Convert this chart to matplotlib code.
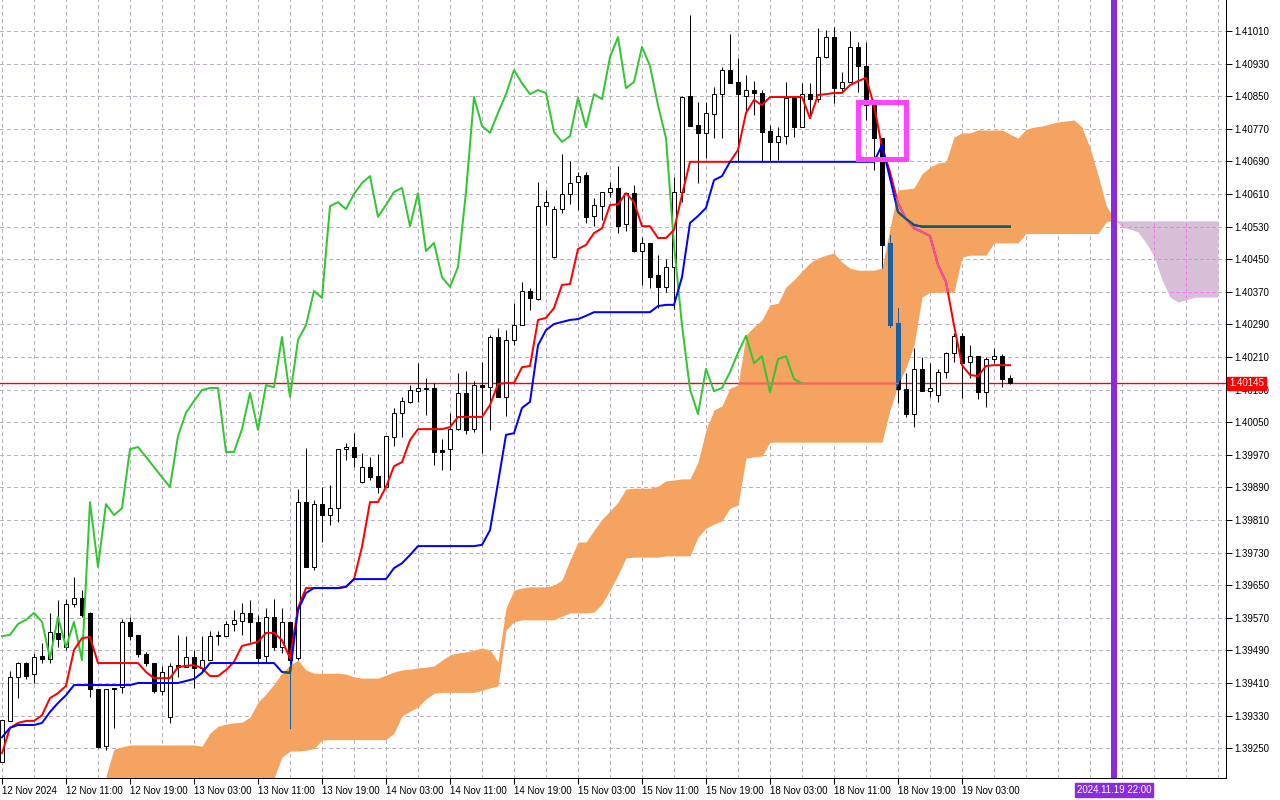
import numpy as np
import matplotlib
matplotlib.use("Agg")
import matplotlib.pyplot as plt
from matplotlib.path import Path
from matplotlib.patches import Rectangle
from matplotlib.transforms import blended_transform_factory
from matplotlib import font_manager

# ---- hourly candles (bar 0 = 12 Nov 03:00) ----
opens = [1.39216, 1.39317, 1.39425, 1.39459, 1.39432, 1.39476, 1.39469, 1.39533, 1.39498, 1.39604,
         1.39619, 1.39582, 1.39395, 1.39255, 1.39398, 1.39400, 1.39560, 1.39528, 1.39481, 1.39459,
         1.39390, 1.39326, 1.39454, 1.39449, 1.39474, 1.39447, 1.39466, 1.39525, 1.39525, 1.39555,
         1.39562, 1.39582, 1.39560, 1.39476, 1.39572, 1.39498, 1.39560, 1.39471, 1.39854, 1.39695,
         1.39849, 1.39822, 1.39839, 1.39984, 1.39989, 1.39903, 1.39940, 1.39918, 1.39891, 1.40014,
         1.40073, 1.40099, 1.40126, 1.40131, 1.40134, 1.39982, 1.39984, 1.40033, 1.40122, 1.40033,
         1.40141, 1.40136, 1.40259, 1.40112, 1.40252, 1.40288, 1.40372, 1.40352, 1.40580, 1.40455,
         1.40573, 1.40610, 1.40639, 1.40657, 1.40556, 1.40580, 1.40615, 1.40625, 1.40536, 1.40612,
         1.40470, 1.40490, 1.40411, 1.40382, 1.40431, 1.40615, 1.40850, 1.40779, 1.40760, 1.40806,
         1.40855, 1.40914, 1.40885, 1.40850, 1.40865, 1.40858, 1.40765, 1.40738, 1.40752, 1.40846,
         1.40774, 1.40855, 1.40843, 1.40946, 1.40995, 1.40870, 1.40885, 1.40971, 1.40924, 1.40828,
         1.40747, 1.40490, 1.40293, 1.40131, 1.40070, 1.40181, 1.40126, 1.40117, 1.40173, 1.40220,
         1.40262, 1.40198, 1.40212, 1.40124, 1.40205, 1.40212, 1.40158]
highs = [1.39319, 1.39439, 1.39462, 1.39462, 1.39484, 1.39508, 1.39582, 1.39614, 1.39616, 1.39670,
         1.39638, 1.39584, 1.39395, 1.39395, 1.39398, 1.39567, 1.39572, 1.39528, 1.39486, 1.39459,
         1.39452, 1.39459, 1.39528, 1.39525, 1.39491, 1.39525, 1.39538, 1.39538, 1.39562, 1.39589,
         1.39606, 1.39614, 1.39577, 1.39594, 1.39616, 1.39594, 1.39560, 1.39886, 1.39987, 1.39859,
         1.39891, 1.39896, 1.39984, 1.39999, 1.40023, 1.39974, 1.39965, 1.39972, 1.40016, 1.40085,
         1.40112, 1.40141, 1.40195, 1.40158, 1.40146, 1.40009, 1.40073, 1.40171, 1.40176, 1.40151,
         1.40198, 1.40264, 1.40281, 1.40276, 1.40342, 1.40394, 1.40379, 1.40639, 1.40620, 1.40580,
         1.40708, 1.40691, 1.40664, 1.40664, 1.40600, 1.40615, 1.40639, 1.40679, 1.40612, 1.40632,
         1.40504, 1.40490, 1.40460, 1.40450, 1.40652, 1.40850, 1.41049, 1.40836, 1.40836, 1.40873,
         1.40922, 1.41003, 1.40944, 1.40902, 1.40887, 1.40865, 1.40779, 1.40774, 1.40885, 1.40846,
         1.40882, 1.40882, 1.41017, 1.41012, 1.41020, 1.40909, 1.41010, 1.40983, 1.40983, 1.40828,
         1.40747, 1.40509, 1.40330, 1.40171, 1.40232, 1.40210, 1.40195, 1.40181, 1.40222, 1.40269,
         1.40269, 1.40239, 1.40212, 1.40210, 1.40232, 1.40217, 1.40166]
lows = [1.39216, 1.39317, 1.39373, 1.39420, 1.39410, 1.39459, 1.39459, 1.39498, 1.39491, 1.39596,
        1.39572, 1.39376, 1.39250, 1.39245, 1.39299, 1.39385, 1.39515, 1.39474, 1.39452, 1.39385,
        1.39380, 1.39312, 1.39425, 1.39449, 1.39398, 1.39435, 1.39466, 1.39503, 1.39525, 1.39538,
        1.39528, 1.39511, 1.39459, 1.39459, 1.39491, 1.39484, 1.39299, 1.39466, 1.39695, 1.39687,
        1.39756, 1.39798, 1.39805, 1.39957, 1.39940, 1.39901, 1.39908, 1.39876, 1.39891, 1.39992,
        1.40014, 1.40097, 1.40099, 1.40068, 1.39945, 1.39933, 1.39933, 1.40031, 1.40021, 1.40026,
        1.39974, 1.40031, 1.40112, 1.40065, 1.40239, 1.40288, 1.40325, 1.40350, 1.40534, 1.40453,
        1.40563, 1.40585, 1.40571, 1.40539, 1.40531, 1.40546, 1.40603, 1.40514, 1.40519, 1.40468,
        1.40387, 1.40379, 1.40330, 1.40369, 1.40328, 1.40590, 1.40777, 1.40637, 1.40698, 1.40747,
        1.40747, 1.40882, 1.40689, 1.40809, 1.40804, 1.40689, 1.40691, 1.40693, 1.40733, 1.40750,
        1.40774, 1.40796, 1.40836, 1.40944, 1.40833, 1.40858, 1.40885, 1.40860, 1.40792, 1.40669,
        1.40428, 1.40284, 1.40097, 1.40063, 1.40038, 1.40126, 1.40112, 1.40099, 1.40158, 1.40198,
        1.40109, 1.40158, 1.40107, 1.40087, 1.40195, 1.40136, 1.40143]
closes = [1.39319, 1.39425, 1.39459, 1.39427, 1.39474, 1.39469, 1.39535, 1.39518, 1.39604, 1.39619,
          1.39577, 1.39395, 1.39253, 1.39395, 1.39395, 1.39560, 1.39525, 1.39481, 1.39459, 1.39390,
          1.39437, 1.39452, 1.39449, 1.39474, 1.39447, 1.39466, 1.39525, 1.39528, 1.39555, 1.39565,
          1.39582, 1.39560, 1.39471, 1.39572, 1.39498, 1.39560, 1.39466, 1.39854, 1.39695, 1.39849,
          1.39822, 1.39839, 1.39984, 1.39989, 1.39965, 1.39940, 1.39915, 1.39891, 1.40016, 1.40073,
          1.40102, 1.40129, 1.40134, 1.40134, 1.39977, 1.39977, 1.40033, 1.40122, 1.40031, 1.40141,
          1.40136, 1.40259, 1.40112, 1.40252, 1.40288, 1.40372, 1.40355, 1.40580, 1.40590, 1.40573,
          1.40610, 1.40637, 1.40654, 1.40554, 1.40583, 1.40615, 1.40625, 1.40531, 1.40612, 1.40470,
          1.40490, 1.40406, 1.40382, 1.40431, 1.40615, 1.40848, 1.40777, 1.40760, 1.40809, 1.40855,
          1.40914, 1.40882, 1.40855, 1.40865, 1.40858, 1.40762, 1.40738, 1.40752, 1.40846, 1.40774,
          1.40855, 1.40843, 1.40946, 1.40995, 1.40870, 1.40885, 1.40971, 1.40924, 1.40828, 1.40747,
          1.40485, 1.40288, 1.40131, 1.40070, 1.40181, 1.40126, 1.40134, 1.40173, 1.40220, 1.40262,
          1.40195, 1.40212, 1.40124, 1.40205, 1.40212, 1.40156, 1.40145]

# ---- Ichimoku lines as drawn ----
tenkan = [1.39238, 1.39300, 1.39312, 1.39317, 1.39317, 1.39331, 1.39373, 1.39385, 1.39403, 1.39491,
          1.39520, 1.39523, 1.39459, 1.39459, 1.39459, 1.39459, 1.39459, 1.39459, 1.39437, 1.39422,
          1.39422, 1.39422, 1.39449, 1.39452, 1.39454, 1.39447, 1.39427, 1.39427, 1.39442, 1.39462,
          1.39501, 1.39506, 1.39511, 1.39533, 1.39533, 1.39515, 1.39471, 1.39594, 1.39643, 1.39643,
          1.39643, 1.39643, 1.39643, 1.39646, 1.39665, 1.39744, 1.39854, 1.39854, 1.39891, 1.39942,
          1.39952, 1.40006, 1.40033, 1.40033, 1.40033, 1.40033, 1.40038, 1.40063, 1.40063, 1.40063,
          1.40063, 1.40092, 1.40144, 1.40146, 1.40146, 1.40185, 1.40188, 1.40301, 1.40306, 1.40330,
          1.40387, 1.40389, 1.40475, 1.40485, 1.40514, 1.40526, 1.40583, 1.40585, 1.40612, 1.40590,
          1.40531, 1.40531, 1.40502, 1.40502, 1.40522, 1.40608, 1.40689, 1.40689, 1.40689, 1.40689,
          1.40689, 1.40689, 1.40718, 1.40809, 1.40841, 1.40828, 1.40848, 1.40848, 1.40848, 1.40848,
          1.40848, 1.40796, 1.40853, 1.40855, 1.40858, 1.40858, 1.40877, 1.40887, 1.40895, 1.40828,
          1.40725, 1.40664, 1.40588, 1.40549, 1.40526, 1.40517, 1.40507, 1.40436, 1.40394, 1.40288,
          1.40190, 1.40166, 1.40163, 1.40188, 1.40190, 1.40190, 1.40190]
kijun = [1.39277, 1.39300, 1.39307, 1.39307, 1.39307, 1.39312, 1.39339, 1.39361, 1.39380, 1.39405,
         1.39405, 1.39405, 1.39405, 1.39405, 1.39405, 1.39405, 1.39405, 1.39410, 1.39410, 1.39410,
         1.39410, 1.39410, 1.39410, 1.39415, 1.39420, 1.39435, 1.39459, 1.39459, 1.39459, 1.39459,
         1.39459, 1.39459, 1.39459, 1.39459, 1.39459, 1.39437, 1.39435, 1.39589, 1.39631, 1.39643,
         1.39643, 1.39643, 1.39643, 1.39646, 1.39665, 1.39665, 1.39665, 1.39665, 1.39665, 1.39692,
         1.39704, 1.39724, 1.39746, 1.39746, 1.39746, 1.39746, 1.39746, 1.39746, 1.39746, 1.39746,
         1.39749, 1.39785, 1.39901, 1.40019, 1.40023, 1.40085, 1.40100, 1.40239, 1.40276, 1.40291,
         1.40296, 1.40301, 1.40303, 1.40311, 1.40320, 1.40320, 1.40320, 1.40320, 1.40320, 1.40320,
         1.40320, 1.40320, 1.40335, 1.40338, 1.40338, 1.40406, 1.40539, 1.40556, 1.40576, 1.40644,
         1.40654, 1.40689, 1.40689, 1.40689, 1.40689, 1.40689, 1.40689, 1.40689, 1.40689, 1.40689,
         1.40689, 1.40689, 1.40689, 1.40689, 1.40689, 1.40689, 1.40689, 1.40689, 1.40689, 1.40689,
         1.40730, 1.40649, 1.40566, 1.40549, 1.40534, 1.40530, 1.40530, 1.40530, 1.40530, 1.40530,
         1.40530, 1.40530, 1.40530, 1.40530, 1.40530, 1.40530, 1.40530]

# cloud spans, first value sits on bar 13 and the last on bar 152
cloud_start = 13
span_a = [1.39182, 1.39248, 1.39253, 1.39258, 1.39258, 1.39258, 1.39258, 1.39258, 1.39258, 1.39258,
          1.39258, 1.39258, 1.39255, 1.39287, 1.39304, 1.39309, 1.39312, 1.39314, 1.39326, 1.39363,
          1.39383, 1.39407, 1.39434, 1.39454, 1.39466, 1.39442, 1.39434, 1.39434, 1.39434, 1.39434,
          1.39432, 1.39425, 1.39422, 1.39422, 1.39422, 1.39429, 1.39437, 1.39442, 1.39444, 1.39447,
          1.39449, 1.39452, 1.39466, 1.39479, 1.39484, 1.39486, 1.39491, 1.39496, 1.39491, 1.39462,
          1.39594, 1.39638, 1.39643, 1.39646, 1.39646, 1.39646, 1.39650, 1.39663, 1.39712, 1.39756,
          1.39756, 1.39785, 1.39812, 1.39832, 1.39854, 1.39886, 1.39888, 1.39888, 1.39888, 1.39893,
          1.39906, 1.39908, 1.39911, 1.39911, 1.39952, 1.40031, 1.40080, 1.40090, 1.40134, 1.40141,
          1.40264, 1.40284, 1.40301, 1.40338, 1.40342, 1.40382, 1.40399, 1.40421, 1.40441, 1.40453,
          1.40460, 1.40465, 1.40443, 1.40428, 1.40423, 1.40423, 1.40423, 1.40428, 1.40526, 1.40620,
          1.40622, 1.40625, 1.40659, 1.40676, 1.40686, 1.40689, 1.40750, 1.40760, 1.40760, 1.40767,
          1.40767, 1.40767, 1.40767, 1.40757, 1.40747, 1.40769, 1.40774, 1.40777, 1.40782, 1.40787,
          1.40789, 1.40792, 1.40774, 1.40723, 1.40657, 1.40583, 1.40549, 1.40529, 1.40524, 1.40517,
          1.40490, 1.40458, 1.40399, 1.40357, 1.40345, 1.40350, 1.40357, 1.40357, 1.40357, 1.40357]
span_b = [1.39150, 1.39150, 1.39150, 1.39150, 1.39150, 1.39150, 1.39150, 1.39150, 1.39150, 1.39150,
          1.39150, 1.39150, 1.39150, 1.39150, 1.39150, 1.39150, 1.39150, 1.39150, 1.39150, 1.39150,
          1.39150, 1.39177, 1.39228, 1.39243, 1.39243, 1.39245, 1.39249, 1.39270, 1.39271, 1.39271,
          1.39271, 1.39271, 1.39271, 1.39271, 1.39271, 1.39271, 1.39287, 1.39329, 1.39341, 1.39351,
          1.39371, 1.39385, 1.39387, 1.39387, 1.39387, 1.39387, 1.39387, 1.39392, 1.39398, 1.39403,
          1.39540, 1.39560, 1.39565, 1.39565, 1.39565, 1.39565, 1.39565, 1.39574, 1.39582, 1.39582,
          1.39582, 1.39584, 1.39604, 1.39638, 1.39675, 1.39717, 1.39719, 1.39719, 1.39719, 1.39719,
          1.39722, 1.39722, 1.39722, 1.39722, 1.39768, 1.39790, 1.39800, 1.39808, 1.39839, 1.39847,
          1.39962, 1.39965, 1.39967, 1.40001, 1.40001, 1.40001, 1.40001, 1.40001, 1.40001, 1.40001,
          1.40001, 1.40001, 1.40001, 1.40001, 1.40001, 1.40001, 1.40001, 1.40001, 1.40080, 1.40141,
          1.40183, 1.40239, 1.40357, 1.40369, 1.40369, 1.40369, 1.40369, 1.40455, 1.40460, 1.40460,
          1.40460, 1.40490, 1.40490, 1.40490, 1.40490, 1.40513, 1.40513, 1.40513, 1.40513, 1.40513,
          1.40513, 1.40513, 1.40513, 1.40513, 1.40513, 1.40541, 1.40546, 1.40544, 1.40544, 1.40544,
          1.40544, 1.40544, 1.40544, 1.40544, 1.40544, 1.40544, 1.40544, 1.40544, 1.40544, 1.40544]
chikou_shift = 26

price_ticks = [1.41010, 1.40930, 1.40850, 1.40770, 1.40690, 1.40610, 1.40530, 1.40450,
               1.40370, 1.40290, 1.40210, 1.40130, 1.40050, 1.39970, 1.39890, 1.39810,
               1.39730, 1.39650, 1.39570, 1.39490, 1.39410, 1.39330, 1.39250]
date_labels = ["12 Nov 2024", "12 Nov 11:00", "12 Nov 19:00", "13 Nov 03:00", "13 Nov 11:00",
               "13 Nov 19:00", "14 Nov 03:00", "14 Nov 11:00", "14 Nov 19:00", "15 Nov 03:00",
               "15 Nov 11:00", "15 Nov 19:00", "18 Nov 03:00", "18 Nov 11:00", "18 Nov 19:00",
               "19 Nov 03:00"]
last_price = 1.40145
vline_bar = 139
vline_label = "2024.11.19 22:00"
box_bars = (107, 113)
box_prices = (1.40695, 1.40835)

# ---- style ----
names = {f.name for f in font_manager.fontManager.ttflist}
if "Liberation Sans Narrow" in names:
    plt.rcParams["font.family"] = ["Liberation Sans Narrow", "DejaVu Sans"]
    FS = 8
else:
    plt.rcParams["font.family"] = ["Liberation Sans", "DejaVu Sans"]
    FS = 7
GRID = "#bdb2c2"
ORANGE = "#f4a460"
THISTLE = "#d8bfd8"
px = 0.72  # one pixel in points

o, h, l, c = (np.array(v) for v in (opens, highs, lows, closes))
x = np.arange(len(c))
bull = c >= o
ta, tb = np.array(tenkan), np.array(kijun)
sa, sb = np.array(span_a), np.array(span_b)
xc = np.arange(cloud_start, cloud_start + len(sa))

fig = plt.figure(figsize=(12.8, 8), dpi=100)
ax = fig.add_axes([0, 22 / 800, 1226 / 1280, 778 / 800])
ax.set_xlim(-0.25, 153)
ax.set_ylim(1.391769, 1.410861)

# grid
for t in price_ticks:
    ax.axhline(t, color=GRID, lw=px, ls=(0, (3, 3)), zorder=0, antialiased=False)
for g in range(0, 153, 4):
    ax.axvline(g, color=GRID, lw=px, ls=(0, (3, 3)), zorder=0, antialiased=False)

# cloud
up = ax.fill_between(xc, sa, sb, where=sa >= sb, interpolate=True,
                     color=ORANGE, lw=0, zorder=1)
down = ax.fill_between(xc, sa, sb, where=sb > sa, interpolate=True,
                       color=THISTLE, lw=0, zorder=1)
up_clip = Path.make_compound_path(*up.get_paths())
down_clip = Path.make_compound_path(*down.get_paths())

# grid shows magenta through the thistle part
for t in price_ticks:
    ln = ax.axhline(t, color="#ff66ff", lw=px, ls=(0, (3, 3)), zorder=1.5)
    ln.set_clip_path(down_clip, ax.transData)
for g in range(0, 153, 4):
    ln = ax.axvline(g, color="#ff66ff", lw=px, ls=(0, (3, 3)), zorder=1.5)
    ln.set_clip_path(down_clip, ax.transData)


def draw_candles(dark, z, clip=None):
    wick = ax.vlines(x, l, h, colors=dark, lw=px, zorder=z)
    bars = ax.bar(x, np.abs(c - o), bottom=np.minimum(o, c), width=0.5,
                  color=[("white" if b else dark) for b in bull],
                  edgecolor=dark, linewidth=px, zorder=z)
    if clip is not None:
        wick.set_clip_path(clip, ax.transData)
        for p in bars:
            p.set_clip_path(clip, ax.transData)


# current price line
ax.axhline(last_price, color="#ff0000", lw=1.0, zorder=2)

draw_candles("black", 3)

# chikou, tenkan, kijun
ax.plot(x[:len(c) - chikou_shift], c[chikou_shift:], color="#33c633", lw=2 * px, zorder=4)
ax.plot(x, ta, color="red", lw=2 * px, zorder=4)
ax.plot(x, tb, color="blue", lw=2 * px, zorder=4)

# elements seen through the orange cloud change colour
draw_candles("#1a5f9e", 5, clip=up_clip)
ln = ax.axhline(last_price, color="#f05aa8", lw=1.0, zorder=5)
ln.set_clip_path(up_clip, ax.transData)
ln = ax.plot(x, ta, color="#ef52a4", lw=2 * px, zorder=5)[0]
ln.set_clip_path(up_clip, ax.transData)
ln = ax.plot(x, tb, color="#0b5c6a", lw=2 * px, zorder=5)[0]
ln.set_clip_path(up_clip, ax.transData)

# vertical marker and rectangle
ax.axvline(vline_bar, color="#8a2be2", lw=6 * px, zorder=6)
ax.add_patch(Rectangle((box_bars[0], box_prices[0]), box_bars[1] - box_bars[0],
                       box_prices[1] - box_prices[0], fill=False,
                       edgecolor="#ff44ff", lw=5 * px, zorder=7))

# axes
for s in ("top", "left"):
    ax.spines[s].set_visible(False)
for s in ("right", "bottom"):
    ax.spines[s].set_linewidth(px)
ax.yaxis.tick_right()
ax.set_yticks(price_ticks)
ax.set_yticklabels([f"{t:.5f}" for t in price_ticks])
ax.set_xticks(np.arange(0, 8 * len(date_labels), 8))
ax.set_xticklabels(date_labels, ha="left")
ax.tick_params(axis="both", direction="out", length=4, width=px, labelsize=FS, pad=2)

ry = blended_transform_factory(ax.transAxes, ax.transData)
ax.text(1.0 + 3 / 1226, last_price, f"{last_price:.5f}", transform=ry, ha="left",
        va="center", color="white", fontsize=FS, zorder=10, clip_on=False,
        bbox=dict(boxstyle="square,pad=0.2", fc="red", ec="red"))
bx = blended_transform_factory(ax.transData, ax.transAxes)
ax.text(vline_bar, -7 / 778, vline_label, transform=bx, ha="center", va="top",
        color="white", fontsize=FS, zorder=10, clip_on=False,
        bbox=dict(boxstyle="square,pad=0.2", fc="#8a2be2", ec="#8a2be2"))

fig.savefig("out.png", dpi=100, facecolor="white")
